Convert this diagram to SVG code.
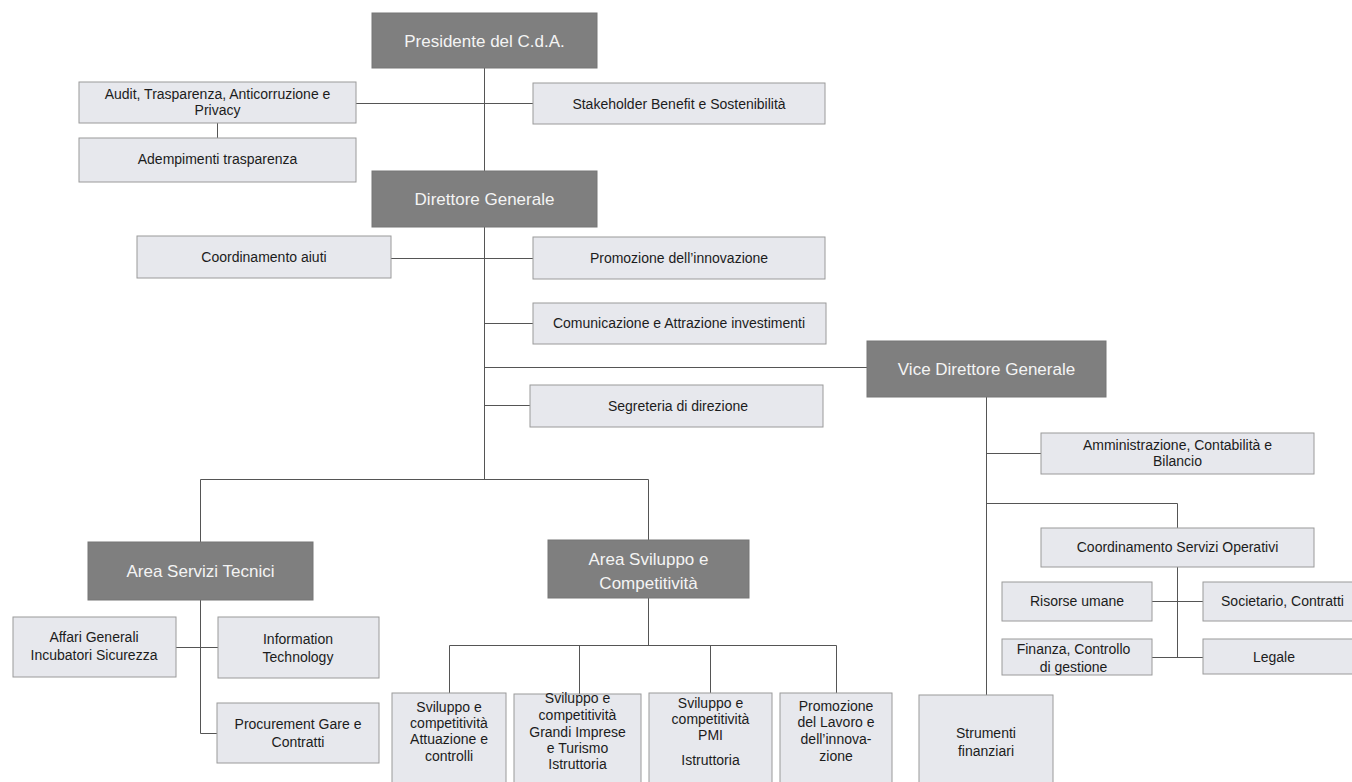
<svg xmlns="http://www.w3.org/2000/svg" width="1352" height="782" viewBox="0 0 1352 782">
<style>
.dk{fill:#7f7f7f;stroke:#767676;stroke-width:1}
.lt{fill:#e7e8ed;stroke:#9a9a9a;stroke-width:1}
.dt{font-family:"Liberation Sans",Arial,sans-serif;font-size:17px;fill:#f4f4f4;text-anchor:middle}
.tt{font-family:"Liberation Sans",Arial,sans-serif;font-size:14px;fill:#1c1c1c;text-anchor:middle}
.cn{fill:none;stroke:#555;stroke-width:1}
</style>
<rect width="1352" height="782" fill="#ffffff"/>
<g id="connectors">
<path class="cn" d="M484.5,68V171"/>
<path class="cn" d="M356,103.5H533"/>
<path class="cn" d="M217.5,123V138"/>
<path class="cn" d="M484.5,227V479.5"/>
<path class="cn" d="M391,258.5H533"/>
<path class="cn" d="M484.5,323.5H533"/>
<path class="cn" d="M484.5,367.5H867"/>
<path class="cn" d="M484.5,405.5H530"/>
<path class="cn" d="M200.5,542V479.5H648.5V540"/>
<path class="cn" d="M200.5,600V733.5H217"/>
<path class="cn" d="M176,647.5H218"/>
<path class="cn" d="M648.5,598V645.5"/>
<path class="cn" d="M449.5,693V645.5H836.5V693"/>
<path class="cn" d="M579.5,645.5V694"/>
<path class="cn" d="M710.5,645.5V693"/>
<path class="cn" d="M986.5,397V695"/>
<path class="cn" d="M986.5,453.5H1041"/>
<path class="cn" d="M986.5,503.5H1177.5V528"/>
<path class="cn" d="M1177.5,567V657.5"/>
<path class="cn" d="M1152,601.5H1203"/>
<path class="cn" d="M1152,657.5H1203"/>
</g>
<g id="presidente"><rect class="dk" x="372" y="13" width="225" height="55"/><text class="dt" x="484.5" y="46.5">Presidente del C.d.A.</text></g>
<g id="audit"><rect class="lt" x="79" y="82" width="277" height="41"/><text class="tt" x="217.5" y="99">Audit, Trasparenza, Anticorruzione e</text><text class="tt" x="217.5" y="115">Privacy</text></g>
<g id="stakeholder"><rect class="lt" x="533" y="83" width="292" height="41"/><text class="tt" x="679" y="108.5">Stakeholder Benefit e Sostenibilità</text></g>
<g id="adempimenti"><rect class="lt" x="79" y="138" width="277" height="44"/><text class="tt" x="217.5" y="164">Adempimenti trasparenza</text></g>
<g id="direttore"><rect class="dk" x="372" y="171" width="225" height="56"/><text class="dt" x="484.5" y="205">Direttore Generale</text></g>
<g id="coord-aiuti"><rect class="lt" x="137" y="236" width="254" height="42"/><text class="tt" x="264" y="262">Coordinamento aiuti</text></g>
<g id="promozione"><rect class="lt" x="533" y="237" width="292" height="42"/><text class="tt" x="679" y="263">Promozione dell’innovazione</text></g>
<g id="comunicazione"><rect class="lt" x="533" y="303" width="293" height="41"/><text class="tt" x="679" y="328">Comunicazione e Attrazione investimenti</text></g>
<g id="segreteria"><rect class="lt" x="530" y="385" width="293" height="42"/><text class="tt" x="678" y="411">Segreteria di direzione</text></g>
<g id="vice"><rect class="dk" x="867" y="341" width="239" height="56"/><text class="dt" x="986.5" y="375">Vice Direttore Generale</text></g>
<g id="amministrazione"><rect class="lt" x="1041" y="433" width="273" height="41"/><text class="tt" x="1177.5" y="450">Amministrazione, Contabilità e</text><text class="tt" x="1177.5" y="466">Bilancio</text></g>
<g id="cso"><rect class="lt" x="1041" y="528" width="273" height="39"/><text class="tt" x="1177.5" y="552">Coordinamento Servizi Operativi</text></g>
<g id="risorse"><rect class="lt" x="1002" y="582" width="150" height="39"/><text class="tt" x="1077" y="606">Risorse umane</text></g>
<g id="societario"><rect class="lt" x="1203" y="582" width="160" height="39"/><text class="tt" x="1282.5" y="606">Societario, Contratti</text></g>
<g id="finanza"><rect class="lt" x="1002" y="639" width="150" height="36"/><text class="tt" x="1073.5" y="654">Finanza, Controllo</text><text class="tt" x="1073.5" y="672">di gestione</text></g>
<g id="legale"><rect class="lt" x="1203" y="639" width="160" height="35"/><text class="tt" x="1274" y="662">Legale</text></g>
<g id="strumenti"><rect class="lt" x="919" y="695" width="134" height="100"/><text class="tt" x="986" y="738">Strumenti</text><text class="tt" x="986" y="756">finanziari</text></g>
<g id="area-tecnici"><rect class="dk" x="88" y="542" width="225" height="58"/><text class="dt" x="200.5" y="577">Area Servizi Tecnici</text></g>
<g id="affari"><rect class="lt" x="13" y="617" width="163" height="60"/><text class="tt" x="94" y="642">Affari Generali</text><text class="tt" x="94" y="660">Incubatori Sicurezza</text></g>
<g id="it"><rect class="lt" x="218" y="617" width="161" height="61"/><text class="tt" x="298" y="644">Information</text><text class="tt" x="298" y="662">Technology</text></g>
<g id="procurement"><rect class="lt" x="217" y="703" width="162" height="60"/><text class="tt" x="298" y="729">Procurement Gare e</text><text class="tt" x="298" y="747">Contratti</text></g>
<g id="area-sviluppo"><rect class="dk" x="548" y="540" width="201" height="58"/><text class="dt" x="648.5" y="565">Area Sviluppo e</text><text class="dt" x="648.5" y="589">Competitività</text></g>
<g id="svil-attuazione"><rect class="lt" x="392" y="693" width="114" height="100"/><text class="tt" x="449" y="712">Sviluppo e</text><text class="tt" x="449" y="728">competitività</text><text class="tt" x="449" y="744">Attuazione e</text><text class="tt" x="449" y="761">controlli</text></g>
<g id="svil-grandi"><rect class="lt" x="514" y="694" width="127" height="100"/><text class="tt" x="577.5" y="703">Sviluppo e</text><text class="tt" x="577.5" y="720">competitività</text><text class="tt" x="577.5" y="737">Grandi Imprese</text><text class="tt" x="577.5" y="753">e Turismo</text><text class="tt" x="577.5" y="769">Istruttoria</text></g>
<g id="svil-pmi"><rect class="lt" x="649" y="693" width="123" height="100"/><text class="tt" x="710.5" y="708">Sviluppo e</text><text class="tt" x="710.5" y="724">competitività</text><text class="tt" x="710.5" y="740">PMI</text><text class="tt" x="710.5" y="765">Istruttoria</text></g>
<g id="promo-lavoro"><rect class="lt" x="780" y="693" width="112" height="100"/><text class="tt" x="836" y="711">Promozione</text><text class="tt" x="836" y="727">del Lavoro e</text><text class="tt" x="836" y="744">dell’innova-</text><text class="tt" x="836" y="761">zione</text></g>
</svg>
